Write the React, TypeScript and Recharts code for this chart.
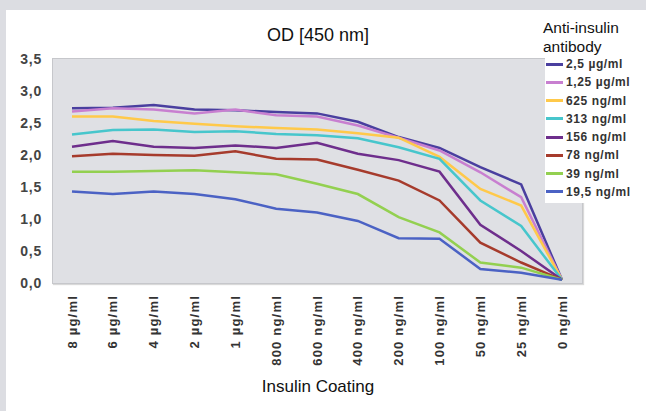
import React from "react";
import { LineChart, Line, XAxis, YAxis } from "recharts";

const coatings = [
  "8 µg/ml",
  "6 µg/ml",
  "4 µg/ml",
  "2 µg/ml",
  "1 µg/ml",
  "800 ng/ml",
  "600 ng/ml",
  "400 ng/ml",
  "200 ng/ml",
  "100 ng/ml",
  "50 ng/ml",
  "25 ng/ml",
  "0 ng/ml",
];

const ab2500 = [2.73, 2.74, 2.78, 2.71, 2.7, 2.67, 2.65, 2.52, 2.28, 2.11, 1.81, 1.54, 0.05];
const ab1250 = [2.68, 2.73, 2.71, 2.65, 2.71, 2.62, 2.6, 2.46, 2.27, 2.07, 1.73, 1.34, 0.05];
const ab625 = [2.6, 2.6, 2.53, 2.49, 2.45, 2.42, 2.4, 2.34, 2.27, 1.97, 1.47, 1.21, 0.05];
const ab313 = [2.32, 2.39, 2.4, 2.36, 2.37, 2.33, 2.31, 2.26, 2.12, 1.94, 1.29, 0.89, 0.05];
const ab156 = [2.13, 2.22, 2.13, 2.11, 2.15, 2.11, 2.19, 2.02, 1.92, 1.74, 0.91, 0.5, 0.05];
const ab78 = [1.98, 2.02, 2.0, 1.99, 2.06, 1.94, 1.93, 1.77, 1.6, 1.29, 0.63, 0.32, 0.05];
const ab39 = [1.74, 1.74, 1.75, 1.76, 1.73, 1.7, 1.55, 1.39, 1.03, 0.79, 0.32, 0.24, 0.05];
const ab19 = [1.43, 1.39, 1.43, 1.39, 1.31, 1.16, 1.1, 0.97, 0.7, 0.69, 0.22, 0.16, 0.05];

const yTicks = [0, 0.5, 1, 1.5, 2, 2.5, 3, 3.5];

const series = [
  { key: "a2500", name: "2,5 µg/ml", values: ab2500, color: "#4a3f9f" },
  { key: "a1250", name: "1,25 µg/ml", values: ab1250, color: "#c87fd0" },
  { key: "a625", name: "625 ng/ml", values: ab625, color: "#ffc94a" },
  { key: "a313", name: "313 ng/ml", values: ab313, color: "#47c6cc" },
  { key: "a156", name: "156 ng/ml", values: ab156, color: "#6e2e8c" },
  { key: "a78", name: "78 ng/ml", values: ab78, color: "#a63b2c" },
  { key: "a39", name: "39 ng/ml", values: ab39, color: "#93d050" },
  { key: "a19", name: "19,5 ng/ml", values: ab19, color: "#4b62c4" },
];

const data = coatings.map((c, i) => {
  const row: Record<string, string | number> = { coating: c };
  series.forEach((s) => (row[s.key] = s.values[i]));
  return row;
});

const font = "'Liberation Sans', Arial, sans-serif";

function XTick(props: any) {
  const { x, y, payload } = props;
  return (
    <text
      x={x}
      y={y}
      dy="0.35em"
      textAnchor="end"
      transform={`rotate(-90, ${x}, ${y})`}
      fontSize={13}
      fontWeight="bold"
      letterSpacing={1.2}
      fill="#333"
      fontFamily={font}
    >
      {payload.value}
    </text>
  );
}

export default function App() {
  return (
    <div
      style={{
        position: "absolute",
        left: 0,
        top: 0,
        width: 646,
        height: 411,
        background: "#dcdde2",
        fontFamily: font,
        overflow: "hidden",
      }}
    >
      <div
        style={{
          position: "absolute",
          left: 6,
          top: 10,
          right: 0,
          bottom: 0,
          background: "#fff",
        }}
      />
      {/* plot area background */}
      <div
        style={{
          position: "absolute",
          left: 52,
          top: 58,
          width: 529,
          height: 224,
          background: "#dfe0e4",
          border: "1px solid #c6c7cb",
          boxShadow: "1px 1px 1px rgba(0,0,0,0.15)",
        }}
      />
      <div
        style={{
          position: "absolute",
          left: 0,
          top: 0,
        }}
      >
        <LineChart
          width={646}
          height={411}
          data={data}
          margin={{ top: 59, right: 64, left: 0, bottom: 0 }}
        >
          <XAxis
            dataKey="coating"
            interval={0}
            axisLine={false}
            tickLine={false}
            tickSize={0}
            tickMargin={12}
            height={128}
            padding={{ left: 20, right: 20 }}
            tick={<XTick />}
          />
          <YAxis
            domain={[0, 3.5]}
            ticks={yTicks}
            width={52}
            axisLine={false}
            tickLine={false}
            tickSize={0}
            tickMargin={10}
            tickFormatter={(v) => Number(v).toFixed(1).replace(".", ",")}
            tick={{
              fontSize: 14,
              fontWeight: "bold",
              fill: "#444",
              fontFamily: font,
              letterSpacing: 0.8,
            }}
          />
          {series.map((s) => (
            <Line
              key={s.key}
              dataKey={s.key}
              name={s.name}
              type="linear"
              stroke={s.color}
              strokeWidth={2.5}
              dot={false}
              isAnimationActive={false}
            />
          ))}
        </LineChart>
      </div>
      <div
        style={{
          position: "absolute",
          left: 0,
          width: 636,
          top: 25,
          textAlign: "center",
          fontSize: 18,
          color: "#111",
        }}
      >
        OD [450 nm]
      </div>
      <div
        style={{
          position: "absolute",
          left: 0,
          width: 636,
          top: 377,
          textAlign: "center",
          fontSize: 17,
          color: "#111",
        }}
      >
        Insulin Coating
      </div>
      {/* legend */}
      <div
        style={{
          position: "absolute",
          left: 543,
          top: 18,
          fontSize: 15.5,
          lineHeight: "19px",
          color: "#111",
        }}
      >
        Anti-insulin
        <br />
        antibody
      </div>
      <div
        style={{
          position: "absolute",
          left: 545,
          top: 56,
          width: 101,
          height: 147,
          background: "#fff",
        }}
      >
        {series.map((s, i) => (
          <div
            key={s.key}
            style={{
              position: "absolute",
              left: 1,
              top: 8 + i * 18.25 - 9,
              height: 18,
              display: "flex",
              alignItems: "center",
              whiteSpace: "nowrap",
            }}
          >
            <span
              style={{
                display: "inline-block",
                width: 17,
                height: 3,
                background: s.color,
                marginRight: 3,
              }}
            />
            <span
              style={{
                fontSize: 12,
                fontWeight: "bold",
                letterSpacing: 0.6,
                color: "#333",
              }}
            >
              {s.name}
            </span>
          </div>
        ))}
      </div>
    </div>
  );
}
